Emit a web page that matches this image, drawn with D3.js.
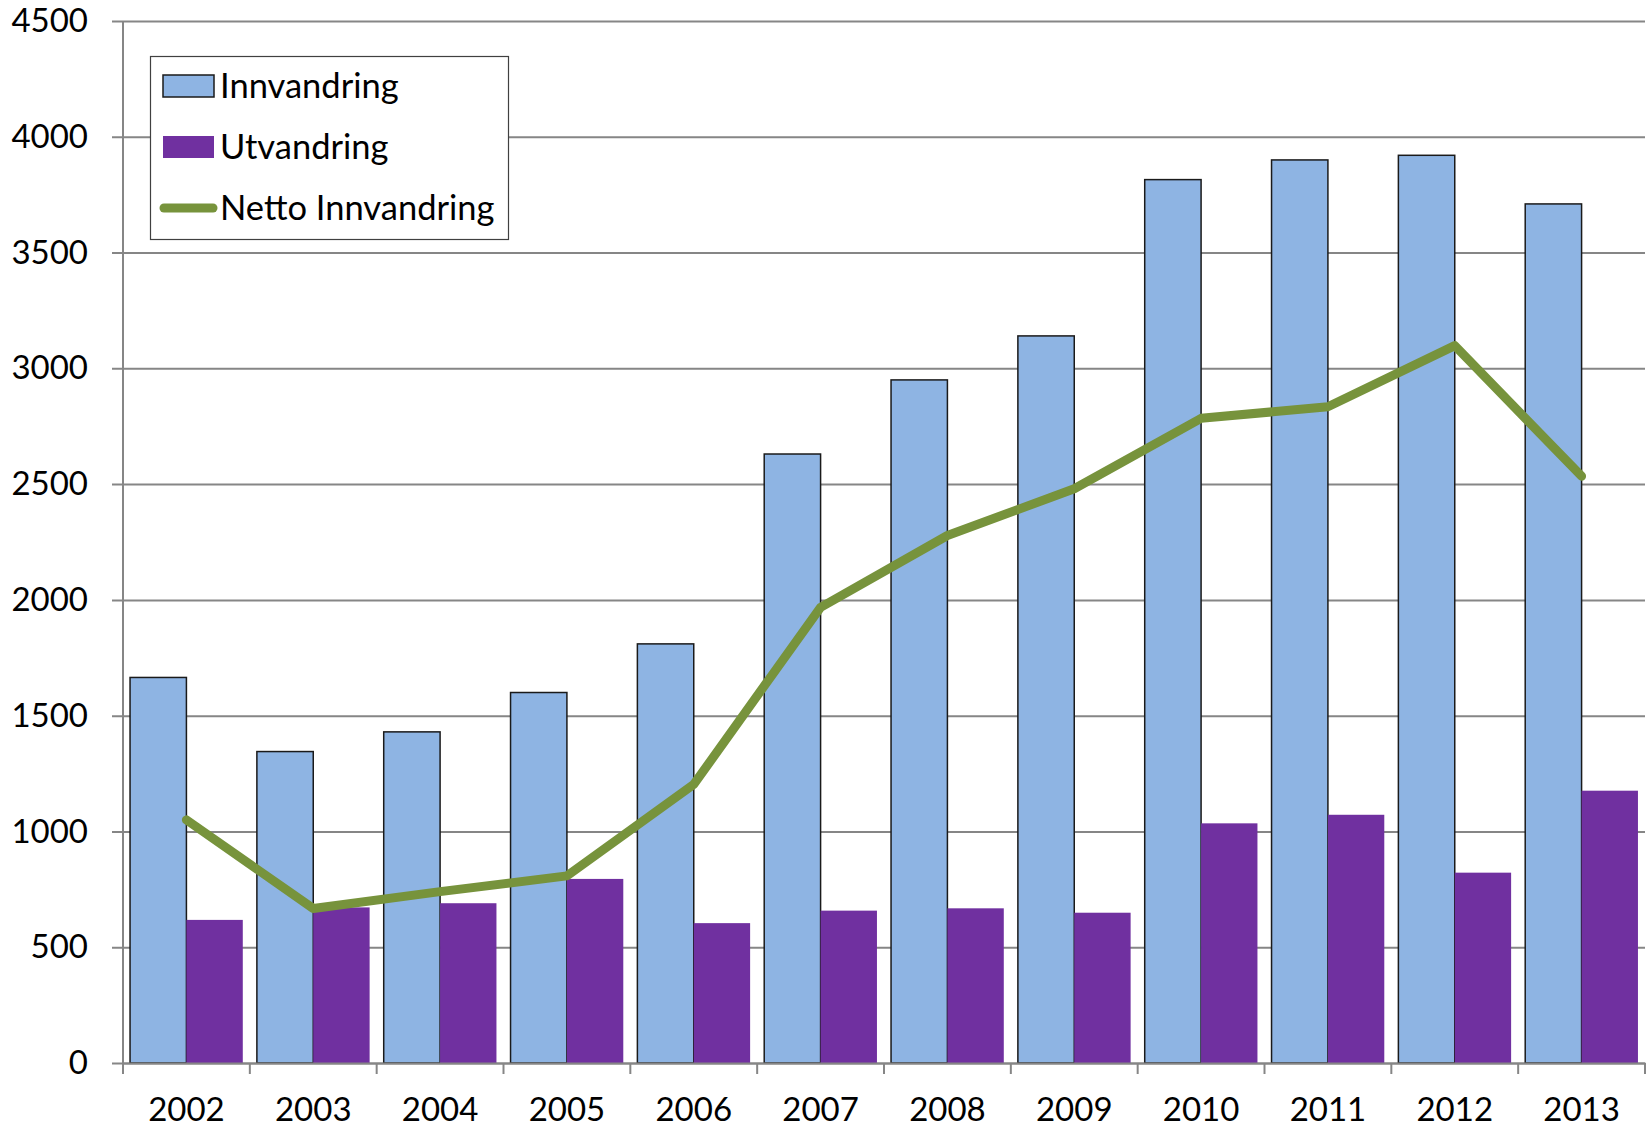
<!DOCTYPE html>
<html><head><meta charset="utf-8">
<script src="https://cdn.jsdelivr.net/npm/d3@7"></script>
<style>
html,body{margin:0;padding:0;background:#fff;}
svg{display:block;font-family:Lato, "Open Sans", sans-serif;}
</style></head>
<body>
<svg id="chart" width="1650" height="1128"></svg>
<script>
const years = ["2002","2003","2004","2005","2006","2007","2008","2009","2010","2011","2012","2013"];
const innvandring = [1665,1345,1430,1600,1810,2630,2950,3140,3815,3900,3920,3710];
const utvandring = [618,672,690,795,604,658,668,649,1035,1072,822,1176];
const netto = [1050,667,740,808,1203,1968,2278,2480,2784,2834,3098,2534];
const yTicks = [0,500,1000,1500,2000,2500,3000,3500,4000,4500];
const seriesNames = ["Innvandring","Utvandring","Netto Innvandring"];

(function(){
const svg = d3.select("#chart");
const mLeft = 123, mRight = 1645, mTop = 21, mBottom = 1063;

const x = d3.scaleBand().domain(years).range([mLeft, mRight]).paddingInner(0).paddingOuter(0);
const y = d3.scaleLinear().domain([0, 4500]).range([mBottom, mTop]);
const bw = x.bandwidth();
const barW = bw / 2.25;
const pad = (bw - 2 * barW) / 2;

// gridlines + y axis
const yAxis = d3.axisLeft(y).tickValues(yTicks).tickSize(-(mRight - mLeft)).tickPadding(35).tickFormat(d3.format("d"));
const gy = svg.append("g").attr("transform", `translate(${mLeft},0)`).call(yAxis);
gy.select(".domain").remove();
gy.selectAll(".tick line").attr("stroke", "#868686").attr("stroke-width", 2).attr("x1", -11);
gy.selectAll(".tick text").attr("font-size", 33).attr("fill", "#000").attr("font-family", "Lato");

// bars
svg.append("g").selectAll("rect").data(years).join("rect")
  .attr("x", d => x(d) + pad)
  .attr("y", (d, i) => y(innvandring[i]))
  .attr("width", barW)
  .attr("height", (d, i) => y(0) - y(innvandring[i]))
  .attr("fill", "#8EB4E3").attr("stroke", "#1a1a1a").attr("stroke-width", 1.5);
svg.append("g").selectAll("rect").data(years).join("rect")
  .attr("x", d => x(d) + pad + barW)
  .attr("y", (d, i) => y(utvandring[i]))
  .attr("width", barW)
  .attr("height", (d, i) => y(0) - y(utvandring[i]))
  .attr("fill", "#7030A0");

// y axis line
svg.append("line").attr("x1", mLeft).attr("x2", mLeft).attr("y1", mTop).attr("y2", mBottom)
  .attr("stroke", "#868686").attr("stroke-width", 2);

// x axis
const xAxis = d3.axisBottom(x).tickSize(0).tickPadding(35);
const gx = svg.append("g").attr("transform", `translate(0,${mBottom})`).call(xAxis);
gx.select(".domain").attr("stroke", "#868686").attr("stroke-width", 2);
gx.selectAll(".tick text").attr("font-size", 33).attr("fill", "#000").attr("font-family", "Lato");
const bounds = years.map(d => x(d)).concat([mRight]);
svg.append("g").selectAll("line").data(bounds).join("line")
  .attr("x1", d => d).attr("x2", d => d).attr("y1", mBottom).attr("y2", mBottom + 11)
  .attr("stroke", "#868686").attr("stroke-width", 2);

// line
const line = d3.line().x((d, i) => x(years[i]) + bw / 2).y(d => y(d));
svg.append("path").datum(netto).attr("d", line)
  .attr("fill", "none").attr("stroke", "#77933C").attr("stroke-width", 9)
  .attr("stroke-linecap", "round").attr("stroke-linejoin", "round");

// legend
const lg = svg.append("g");
lg.append("rect").attr("x", 150.5).attr("y", 56.5).attr("width", 358).attr("height", 183)
  .attr("fill", "#fff").attr("stroke", "#404040").attr("stroke-width", 1.2);
const rowsY = [86, 147, 208];
lg.append("rect").attr("x", 163).attr("y", rowsY[0] - 11).attr("width", 51).attr("height", 22)
  .attr("fill", "#8EB4E3").attr("stroke", "#1a1a1a").attr("stroke-width", 1.5);
lg.append("rect").attr("x", 163).attr("y", rowsY[1] - 11).attr("width", 51).attr("height", 22)
  .attr("fill", "#7030A0");
lg.append("line").attr("x1", 164).attr("x2", 213).attr("y1", rowsY[2]).attr("y2", rowsY[2])
  .attr("stroke", "#77933C").attr("stroke-width", 9).attr("stroke-linecap", "round");
lg.selectAll("text").data(seriesNames).join("text")
  .attr("x", 220).attr("y", (d, i) => rowsY[i]).attr("dy", "0.35em")
  .attr("font-size", 34.5).attr("font-family", "Lato").attr("fill", "#000")
  .text(d => d);
})();
</script>
</body></html>
